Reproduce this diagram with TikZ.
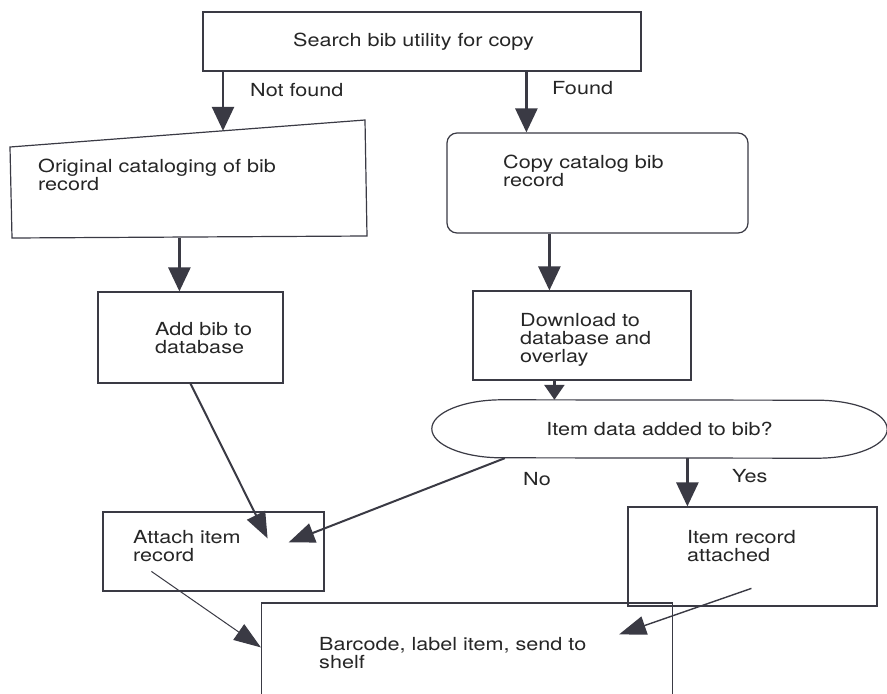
\documentclass[tikz,border=0pt]{standalone}
\usepackage{fontspec}
\setmainfont[FakeStretch=1.2]{TeX Gyre Heros}
\usepackage{xcolor}
\usepackage{tikz}
\usetikzlibrary{arrows.meta,calc,positioning}

\definecolor{ink}{HTML}{3A3A44}

\begin{document}
\begin{tikzpicture}[x=1pt,y=1pt,font=\fontsize{18}{18.3}\selectfont,
        box/.style={draw=ink, line width=1.2pt, rectangle, inner sep=0pt},
        txt/.style={anchor=north west, align=left, inner sep=0pt, text=black!85},
        flow/.style={draw=ink, line width=2.6pt, -{Triangle[length=24pt,width=22pt]}},
        slant/.style={draw=ink, line width=2pt, -{Triangle[length=26pt,width=20pt]}},
        thinflow/.style={draw=ink, line width=1pt, -{Triangle[length=27pt,width=19pt]}}]
        \clip (0, 0) rectangle (887, -694);
        \fill[white] (0, 0) rectangle (887, -694);
        \node[box, minimum width=438, minimum height=59] (search) at (422, -41.5) {};
        \draw[draw=ink, line width=1.2pt] (10, -147) coordinate (orig nw) -- (365, -120) coordinate (orig ne)
            -- (367, -236) coordinate (orig se) -- (12, -238) coordinate (orig sw) -- cycle;
        \node[box, rounded corners=10pt, minimum width=301, minimum height=100] (copy) at (597.5, -183) {};
        \node[box, minimum width=185, minimum height=91] (add) at (190.5, -337.5) {};
        \node[box, minimum width=218, minimum height=89] (download) at (582, -335.5) {};
        \node[draw=none, minimum width=455, minimum height=58, text=black!85] (added) at (659.5, -429) {Item data added to bib?};
        \draw[draw=ink, line width=1.2pt] ([xshift=70]added.north west) arc[start angle=90, end angle=270, x radius=70, y radius=29]
            -- ([xshift=-70]added.south east) arc[start angle=270, end angle=450, x radius=70, y radius=29] -- cycle;
        \node[box, minimum width=221, minimum height=79] (attach) at (213.5, -551.5) {};
        \node[box, minimum width=249, minimum height=99] (attached) at (752.5, -556.5) {};
        \node[box, minimum width=411, minimum height=120] (barcode) at (467, -663) {};
        \node[txt] (search text) at (293, -33) {Search bib utility for copy};
        \node[txt] (orig text) at (38, -159) {Original cataloging of bib\\record};
        \node[txt] (copy text) at (503, -155) {Copy catalog bib\\record};
        \node[txt] (add text) at (155, -322) {Add bib to\\database};
        \node[txt] (download text) at (520, -313) {Download to\\database and\\overlay};
        \node[txt] (attach text) at (133, -530) {Attach item\\record};
        \node[txt] (attached text) at (687, -530) {Item record\\attached};
        \node[txt] (barcode text) at (319, -637) {Barcode, label item, send to\\shelf};
        \node[txt] (not found) at (250, -83) {Not found};
        \node[txt] (found) at (552, -81) {Found};
        \node[txt] (no) at (523, -472) {No};
        \node[txt] (yes) at (732, -469) {Yes};
        \coordinate (orig in) at ($(orig nw)!0.6!(orig ne)$);
        \draw[flow] (search.south -| orig in) -- (orig in);
        \draw[flow] ([xshift=80]copy.north west |- search.south) -- ([xshift=80]copy.north west);
        \draw[flow] ([xshift=82]add.north west |- orig sw) -- ([xshift=82]add.north west);
        \draw[flow] ([xshift=77]download.north west |- copy.south) -- ([xshift=77]download.north west);
        \draw[draw=ink, line width=2.6pt, -{Triangle[length=15pt,width=20pt]}] ([xshift=82]download.south west) -- ([xshift=82]download.south west |- added.north);
        \draw[flow] ([xshift=60]attached.north west |- added.south) -- ([xshift=60]attached.north west);
        \draw[slant] ([xshift=73]added.south west) -- ([shift={(-36,-31)}]attach.north east);
        \draw[slant] (add.south) -- ([shift={(-57,-27)}]attach.north east);
        \draw[thinflow] ([shift={(49,-60)}]attach.north west) -- ([yshift=-45]barcode.north west);
        \draw[thinflow, line width=1.4pt] ([shift={(124,-82)}]attached.north west) -- ([shift={(-54,-32)}]barcode.north east);
      \end{tikzpicture}
\end{document}
